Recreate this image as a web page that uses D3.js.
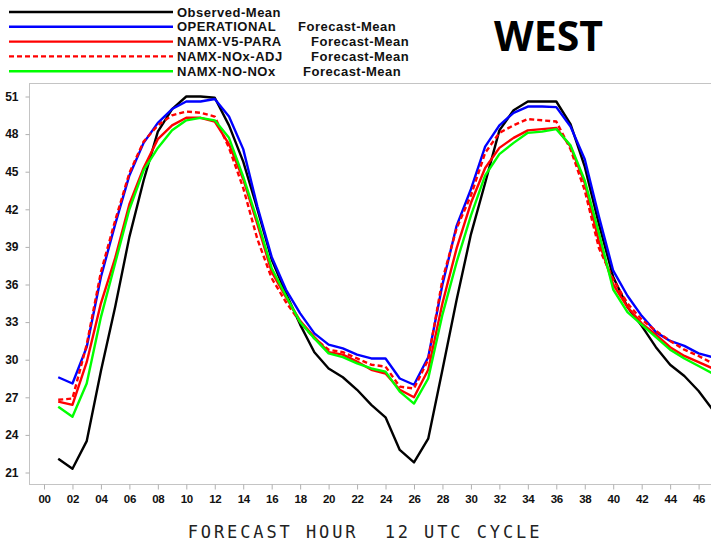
<!DOCTYPE html>
<html><head><meta charset="utf-8">
<script src="https://cdn.jsdelivr.net/npm/d3@7"></script>
<style>body{margin:0;background:#fff}svg{display:block}</style>
</head><body>
<svg id="c" width="711" height="544"></svg>
<script>
const hours = [1,2,3,4,5,6,7,8,9,10,11,12,13,14,15,16,17,18,19,20,21,22,23,24,25,26,27,28,29,30,31,32,33,34,35,36,37,38,39,40,41,42,43,44,45,46,47];
const observed = [22.1,21.3,23.5,29.1,34.2,39.8,44.3,48.2,50.0,51.0,51.0,50.9,48.7,45.8,42.0,38.0,35.3,32.8,30.6,29.3,28.6,27.6,26.4,25.4,22.8,21.8,23.7,29.2,34.8,40.0,44.1,48.3,49.9,50.6,50.6,50.6,48.8,45.4,40.8,36.6,34.2,32.7,31.0,29.6,28.7,27.5,26.0];
const operational = [28.6,28.1,31.0,36.6,40.8,44.7,47.3,48.9,50.0,50.6,50.6,50.8,49.4,46.8,42.2,38.2,35.6,33.7,32.1,31.2,30.9,30.4,30.1,30.1,28.5,28.0,30.2,36.0,40.7,43.6,47.0,48.7,49.7,50.2,50.2,50.15,48.6,46.0,41.4,37.1,35.1,33.5,32.2,31.5,31.1,30.5,30.2];
const v5para = [26.65,26.4,29.8,34.5,38.1,42.4,45.3,47.6,48.7,49.3,49.3,49.0,47.2,44.4,40.8,37.0,35.0,33.1,31.8,30.6,30.4,29.85,29.2,28.9,27.6,27.0,29.2,34.5,38.9,42.5,45.3,46.9,47.7,48.3,48.4,48.5,47.0,44.1,39.4,36.0,34.2,32.9,32.0,31.0,30.3,29.8,29.3];
const noxAdj = [26.8,26.9,31.2,37.0,41.1,44.9,47.4,48.7,49.5,49.8,49.7,49.4,46.9,43.7,39.6,36.5,34.6,33.0,31.7,30.8,30.6,30.1,29.6,29.45,27.85,27.7,30.0,36.4,40.5,43.1,46.5,48.1,48.7,49.2,49.1,49.0,46.8,43.5,38.9,36.4,34.5,33.2,32.3,31.5,30.8,30.3,29.7];
const noNox = [26.25,25.45,28.1,33.4,37.7,42.0,45.1,46.9,48.3,49.1,49.3,49.1,47.7,44.6,41.1,37.3,35.1,33.0,31.7,30.5,30.2,29.7,29.3,29.05,27.45,26.5,28.5,33.6,37.8,41.5,44.7,46.4,47.3,48.1,48.2,48.4,47.1,44.3,40.1,35.6,33.8,32.8,31.8,30.8,30.1,29.5,28.9];
const yTicks = [21,24,27,30,33,36,39,42,45,48,51];
const xTicks = [0,2,4,6,8,10,12,14,16,18,20,22,24,26,28,30,32,34,36,38,40,42,44,46];
const seriesNames = ["Observed-Mean","OPERATIONAL","NAMX-V5-PARA","NAMX-NOx-ADJ","NAMX-NO-NOx"];
const seriesSuffix = ["","Forecast-Mean","Forecast-Mean","Forecast-Mean","Forecast-Mean"];
const xTitle = "FORECAST HOUR  12 UTC CYCLE";
const regionTitle = "WEST";

const series = [
  {name:seriesNames[0], vals:observed, color:"#000000", dash:null, sfx:seriesSuffix[0], sx:0},
  {name:seriesNames[1], vals:operational, color:"#0000ff", dash:null, sfx:seriesSuffix[1], sx:298},
  {name:seriesNames[2], vals:v5para, color:"#ff0000", dash:null, sfx:seriesSuffix[2], sx:311},
  {name:seriesNames[3], vals:noxAdj, color:"#ff0000", dash:"5,3", sfx:seriesSuffix[3], sx:311},
  {name:seriesNames[4], vals:noNox, color:"#00ff00", dash:null, sfx:seriesSuffix[4], sx:303}
];

const svg = d3.select("#c");
const pL=29, pT=83, pB=484, pR=740;
const x = d3.scaleLinear().domain([0,46]).range([44,698.6]);
const y = d3.scaleLinear().domain([21,51]).range([472.5,96.5]);

// frame
svg.append("rect").attr("x",pL+0.5).attr("y",pT+0.5).attr("width",pR-pL).attr("height",pB-pT)
  .attr("fill","none").attr("stroke","#c4c4c4").attr("stroke-width",1);

// y axis
const ya = svg.append("g").attr("transform",`translate(${pL+0.5},0)`)
  .call(d3.axisLeft(y).tickValues(yTicks).tickSize(4).tickPadding(7).tickFormat(d3.format("d")));
ya.select(".domain").remove();
ya.selectAll("line").attr("stroke","#b0b0b0");
ya.selectAll("text").attr("font-family","Liberation Sans, Arial, sans-serif").attr("font-weight","bold")
  .attr("font-size","12px").attr("fill","#111");

// x axis
const xa = svg.append("g").attr("transform",`translate(0,${pB+0.5})`)
  .call(d3.axisBottom(x).tickValues(xTicks).tickSize(5).tickPadding(5).tickFormat(d=>String(d).padStart(2,"0")));
xa.select(".domain").remove();
xa.selectAll("line").attr("stroke","#b0b0b0");
xa.selectAll("text").attr("font-family","Liberation Sans, Arial, sans-serif").attr("font-weight","bold")
  .attr("font-size","11.5px").attr("fill","#111").attr("letter-spacing","-0.3");

// clip
svg.append("clipPath").attr("id","pc").append("rect").attr("x",pL+1).attr("y",pT+1).attr("width",pR-pL).attr("height",pB-pT-1);

const line = d3.line().x((d,i)=>x(hours[i])).y(d=>y(d));
const g = svg.append("g").attr("clip-path","url(#pc)");
series.forEach(s=>{
  g.append("path").attr("d",line(s.vals)).attr("fill","none").attr("stroke",s.color)
   .attr("stroke-width",2.4).attr("stroke-linejoin","round")
   .attr("stroke-dasharray",s.dash);
});

// legend
const lg = svg.append("g");
series.forEach((s,i)=>{
  const ly = 12 + i*14.8;
  lg.append("line").attr("x1",9).attr("x2",173).attr("y1",ly).attr("y2",ly)
    .attr("stroke",s.color).attr("stroke-width",2.4).attr("stroke-dasharray",s.dash);
  const t = lg.append("text").attr("y",ly+4.5).attr("font-family","Liberation Sans, Arial, sans-serif")
    .attr("font-weight","bold").attr("font-size","13px").attr("fill","#111").attr("letter-spacing","0.5");
  t.append("tspan").attr("x",177).text(s.name);
  if(s.sfx) t.append("tspan").attr("x",s.sx).text(s.sfx);
});

// region title
svg.append("text").attr("x",548.5).attr("y",51).attr("text-anchor","middle")
  .attr("font-family","Open Sans, Liberation Sans, sans-serif").attr("font-weight","bold")
  .attr("font-size","41px").attr("fill","#000").text(regionTitle);

// x title
svg.append("text").attr("x",365).attr("y",538).attr("text-anchor","middle")
  .attr("font-family","DejaVu Sans Mono, monospace").attr("font-size","17px")
  .attr("letter-spacing","2.9").attr("fill","#222").attr("style","white-space:pre").text(xTitle);
</script>
</body></html>
